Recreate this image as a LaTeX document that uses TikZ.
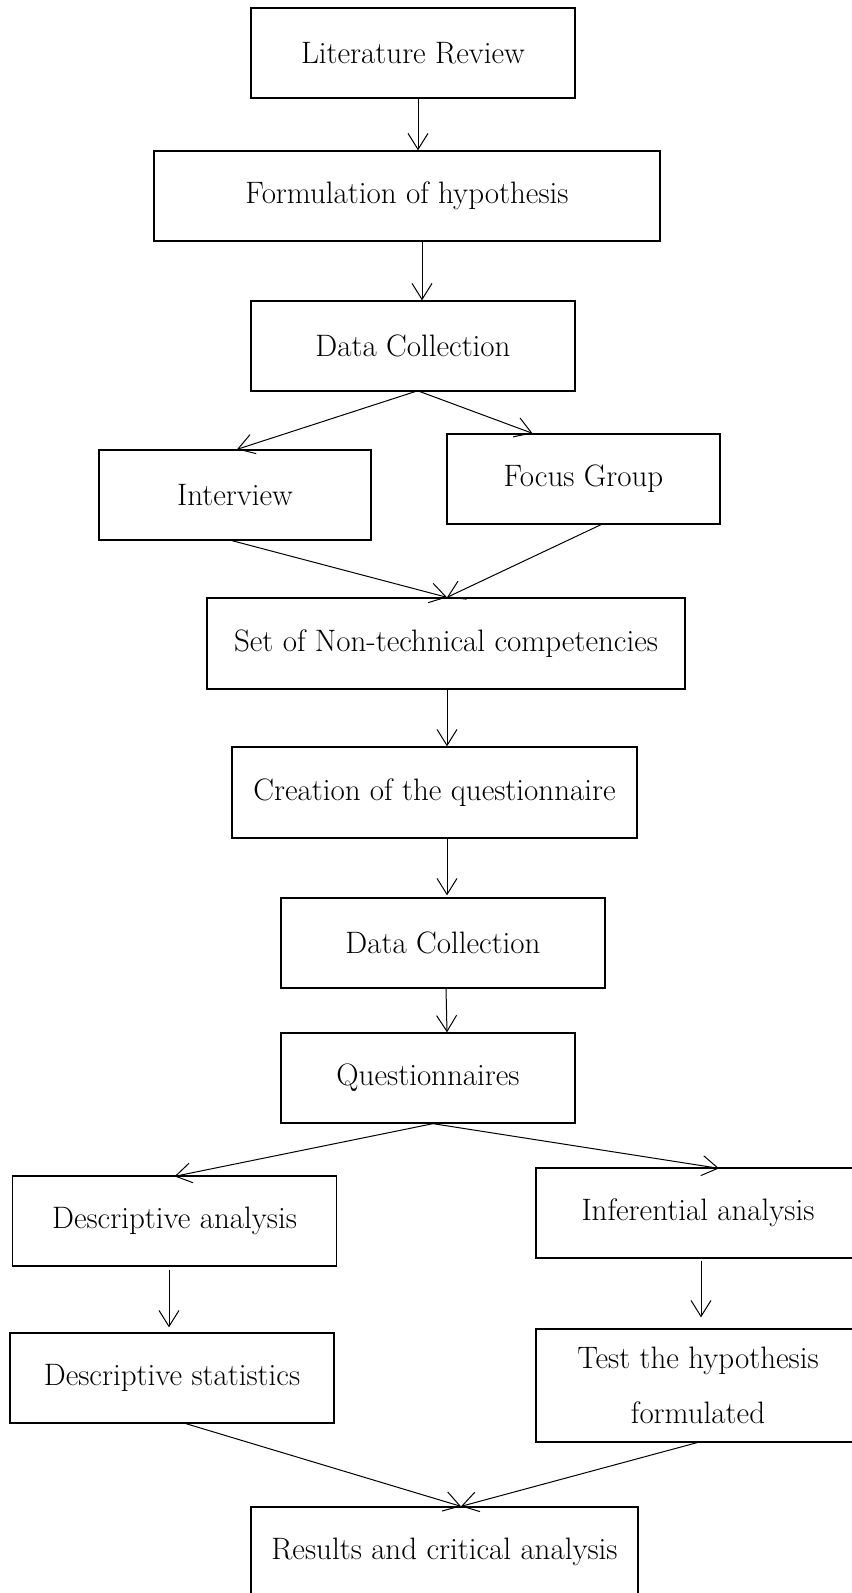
\documentclass[tikz,border=0pt]{standalone}
\usetikzlibrary{arrows.meta}
\begin{document}
\begin{tikzpicture}[x=0.5pt,y=-0.5pt,
  box/.style={draw, line width=0.65pt, inner sep=0pt, align=center,
    minimum height=45pt, font=\fontsize{15.5}{27.5}\selectfont},
  bw/.style={minimum width=#1*0.5pt},
  bh/.style={minimum height=#1*0.5pt},
  arr/.style={line width=0.5pt, -{Straight Barb[length=8pt,width=10pt]}}]
\useasboundingbox (0,0) rectangle (851,1593);

\node[box,bw=324] (lit)   at (413,53)     {Literature Review};
\node[box,bw=506] (form)  at (407,196)    {Formulation of hypothesis};
\node[box,bw=324] (dc1)   at (413,346)    {Data Collection};
\node[box,bw=272] (intv)  at (235,495)    {Interview};
\node[box,bw=273] (focus) at (583.5,479)  {Focus Group};
\node[box,bw=478,bh=91] (set)   at (446,643.5)  {Set of Non-technical competencies};
\node[box,bw=405,bh=91] (creat) at (434.5,792.5) {Creation of the questionnaire};
\node[box,bw=324] (dc2)   at (443,943)    {Data Collection};
\node[box,bw=294] (quest) at (428,1078)   {Questionnaires};
\node[box,bw=324] (desca) at (174.5,1221) {Descriptive analysis};
\node[box,bw=324] (infer) at (698,1213)   {Inferential analysis};
\node[box,bw=324] (dstat) at (172,1378)   {Descriptive statistics};
\node[box,bw=324,bh=113] (test) at (698,1385.5) {Test the hypothesis\\formulated};
\node[box,bw=387] (res)   at (444.5,1552) {Results and critical analysis};

\draw[arr] ([shift={(5,0)}]lit.south) -- ([shift={(11,0)}]form.north);
\draw[arr] ([shift={(15,0)}]form.south) -- ([shift={(9,0)}]dc1.north);
\draw[arr] ([shift={(2,0)}]dc1.south) -- ([shift={(2,0)}]intv.north);
\draw[arr] ([shift={(7,0)}]dc1.south) -- ([shift={(-51,0)}]focus.north);
\draw[arr] ([shift={(-3,0)}]intv.south) -- ([shift={(1,0)}]set.north);
\draw[arr] ([shift={(17.5,0)}]focus.south) -- ([shift={(1,0)}]set.north);
\draw[arr] ([shift={(1,0)}]set.south) -- ([shift={(12.5,0)}]creat.north);
\draw[arr] ([shift={(12.5,0)}]creat.south) -- ([shift={(4,-2)}]dc2.north);
\draw[arr] ([shift={(3,0)}]dc2.south) -- ([shift={(19,0)}]quest.north);
\draw[arr] ([shift={(5,0)}]quest.south) -- ([shift={(0,1)}]desca.north);
\draw[arr] ([shift={(5,0)}]quest.south) -- ([shift={(21,1)}]infer.north);
\draw[arr] ([shift={(-5.5,3)}]desca.south) -- ([shift={(-3,-5)}]dstat.north);
\draw[arr] ([shift={(3,2)}]infer.south) -- ([shift={(3,-11)}]test.north);
\draw[arr] ([shift={(14,0)}]dstat.south) -- ([shift={(16.5,0)}]res.north);
\draw[arr] ([shift={(-1,0)}]test.south) -- ([shift={(16.5,0)}]res.north);
\end{tikzpicture}
\end{document}
